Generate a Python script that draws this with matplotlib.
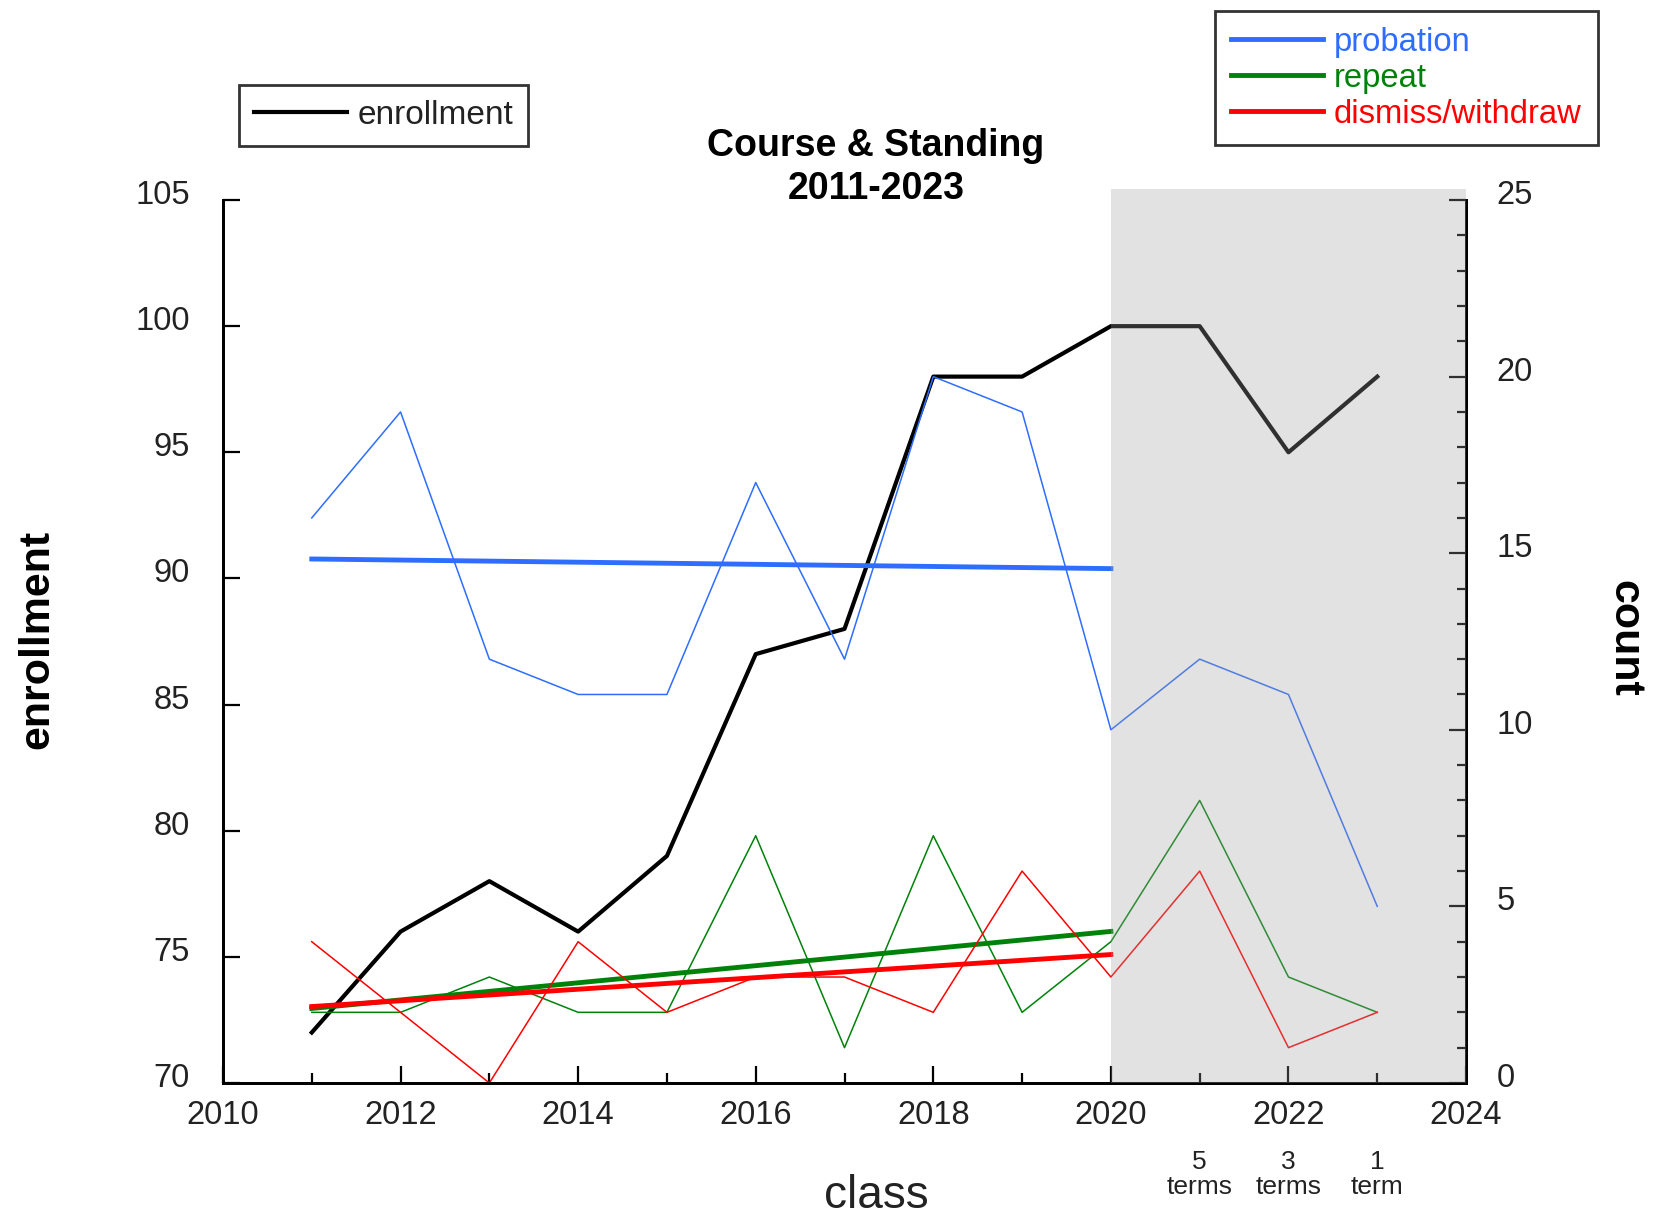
import numpy as np
import matplotlib
matplotlib.use('Agg')
import matplotlib.pyplot as plt
from matplotlib.transforms import ScaledTranslation

plt.rcParams['font.family'] = ['Liberation Sans', 'DejaVu Sans']

# class years and the values
years = [2011, 2012, 2013, 2014, 2015, 2016, 2017, 2018, 2019, 2020, 2021, 2022, 2023]
enrollment = [72, 76, 78, 76, 79, 87, 88, 98, 98, 100, 100, 95, 98]
probation = [16, 19, 12, 11, 11, 17, 12, 20, 19, 10, 12, 11, 5]
repeat = [2, 2, 3, 2, 2, 7, 1, 7, 2, 4, 8, 3, 2]
dismiss = [4, 2, 0, 4, 2, 3, 3, 2, 6, 3, 6, 1, 2]
n_fit = 10  # trend fitted on complete classes 2011-2020
term_notes = {2021: '5\nterms', 2022: '3\nterms', 2023: '1\nterm'}

C_BLUE = '#2e6dff'; C_GREEN = '#00820a'; C_RED = '#ff0000'

fig = plt.figure(figsize=(16.59, 12.16), dpi=100)
ax = fig.add_axes([0.1344, 0.1094, 0.7493, 0.7261])
ax2 = ax.twinx()

x = np.array(years)
ax.plot(x, enrollment, '-', color='black', lw=3, label='enrollment', zorder=3)

handles = []
for vals, col, lab in [(probation, C_BLUE, 'probation'),
                       (repeat, C_GREEN, 'repeat'),
                       (dismiss, C_RED, 'dismiss/withdraw')]:
  ax2.plot(x, vals, '-', color=col, lw=1.1)
  k, b = np.polyfit(x[:n_fit], np.array(vals[:n_fit], dtype=float), 1)
  xf = x[:n_fit]
  h, = ax2.plot(xf, k * xf + b, '-', color=col, lw=3.5, label=lab)
  handles.append(h)

# shaded region for incomplete classes
ax2.axvspan(2020, 2024, ymin=0, ymax=1.012, color='#a0a0a0', alpha=0.3,
            lw=0, zorder=10, clip_on=False)

ax.set_xlim(2010, 2024)
ax.set_ylim(70, 105)
ax2.set_ylim(0, 25)
ax.set_xticks(range(2010, 2025, 2))
ax.set_xticks(range(2010, 2025), minor=True)
ax.set_yticks(range(70, 106, 5))
ax2.set_yticks(range(0, 26, 5))
ax2.set_yticks(range(0, 26), minor=True)

for a in (ax, ax2):
  a.spines['top'].set_visible(False)
  for s in a.spines.values():
    s.set_linewidth(2)
ax.tick_params(axis='both', which='major', direction='in', length=12, width=1.6,
               labelsize=23.5, colors='black', labelcolor='#222222')
ax.tick_params(axis='x', which='minor', direction='in', length=7, width=1.6)
ax.tick_params(axis='x', pad=12)
ax.tick_params(axis='y', pad=24)
ax2.tick_params(axis='y', which='major', direction='in', length=12, width=1.6,
                labelsize=23.5, pad=22, labelcolor='#222222')
ax2.tick_params(axis='y', which='minor', direction='in', length=6.5, width=1.6)

# y tick labels sit a little above their ticks in the original
up = ScaledTranslation(0, 8 / 100, fig.dpi_scale_trans)
for lbl in ax.get_yticklabels() + ax2.get_yticklabels():
  lbl.set_transform(lbl.get_transform() + up)

for yr, txt in term_notes.items():
  ax.text(yr, -0.104, txt, transform=ax.get_xaxis_transform(), ha='center',
          va='center', fontsize=19, color='#222222', linespacing=1.05)

fig.text(0.528, 0.8625, 'Course & Standing\n2011-2023', ha='center', va='center',
         fontsize=27, fontweight='bold', linespacing=1.25)
fig.text(0.528, 0.0164, 'class', ha='center', va='center', fontsize=33, color='#222222')
fig.text(0.0223, 0.4745, 'enrollment', ha='center', va='center', rotation=90,
         fontsize=31, fontweight='bold')
fig.text(0.979, 0.4753, 'count', ha='center', va='center', rotation=270,
         fontsize=31, fontweight='bold')

leg1 = fig.legend(handles=ax.get_lines()[:1], loc='upper left',
                  bbox_to_anchor=(0.144, 0.930), fontsize=24, fancybox=False,
                  edgecolor='black', handlelength=2.8, borderaxespad=0,
                  borderpad=0.45, handletextpad=0.3)
leg1.get_frame().set_linewidth(2)
for t in leg1.get_texts():
  t.set_color('#222222')

leg2 = fig.legend(handles=handles, loc='upper left', bbox_to_anchor=(0.7324, 0.991),
                  fontsize=23.6, fancybox=False, edgecolor='black', handlelength=2.8,
                  borderaxespad=0, borderpad=0.48, handletextpad=0.35, labelspacing=0.15)
leg2.get_frame().set_linewidth(2)
for t, h in zip(leg2.get_texts(), handles):
  t.set_color(h.get_color())

fig.savefig('out.png', dpi=100)
